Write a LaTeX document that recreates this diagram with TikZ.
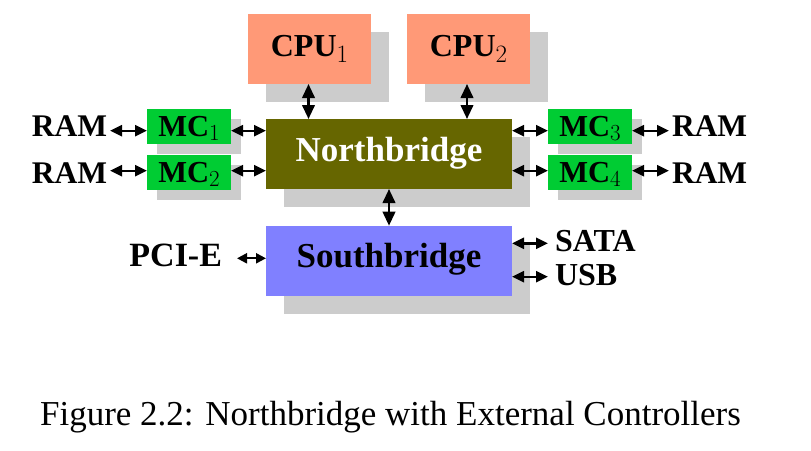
\documentclass[tikz,border=0pt]{standalone}
\usepackage[no-math]{fontspec}
\setmainfont{Liberation Serif}
\newfontfamily\lmr{Latin Modern Roman}
\usetikzlibrary{arrows.meta,shadows}
\definecolor{cpuc}{RGB}{255,153,119}
\definecolor{mcc}{RGB}{0,204,51}
\definecolor{nbc}{RGB}{102,102,0}
\definecolor{sbc}{RGB}{128,128,255}
\definecolor{shc}{RGB}{204,204,204}
\newcommand\mysub[3]{{\lmr\mdseries\fontsize{#1}{#1}\selectfont\raisebox{-#2pt}{#3}}}
\tikzset{
  bigbox/.style={inner sep=0pt, outer sep=0pt, minimum width=246pt, minimum height=70pt,
    text height=24pt, text depth=8.5pt,
    font=\fontsize{35}{40}\selectfont\bfseries,
    drop shadow={shadow xshift=18pt, shadow yshift=-18pt, fill=shc, opacity=1}},
  cpubox/.style={bigbox, fill=cpuc, minimum width=123pt, text height=24pt, text depth=10pt,
    font=\fontsize{32}{38}\selectfont\bfseries},
  mcbox/.style={inner sep=0pt, outer sep=0pt, fill=mcc, minimum width=84pt, minimum height=35pt,
    text height=25pt, text depth=5pt,
    font=\fontsize{30.5}{36}\selectfont\bfseries,
    drop shadow={shadow xshift=10pt, shadow yshift=-10pt, fill=shc, opacity=1}},
  lbl/.style={inner sep=0pt, outer sep=3pt, font=\fontsize{31.5}{38}\selectfont\bfseries},
  tipm/.tip={Triangle[length=12pt,width=11pt]},
  tipl/.tip={Triangle[length=14pt,width=12.5pt]},
  tips/.tip={Triangle[length=10pt,width=10pt]},
  link/.style={line width=2.4pt, tipm-tipm},
  vlink/.style={line width=2.4pt, tipl-tipl},
  slink/.style={line width=2.2pt, tips-tips},
}
\begin{document}
\begin{tikzpicture}[x=1pt,y=-1pt]
\useasboundingbox (0,0) rectangle (811,450);
\node[cpubox] (cpu1) at (309.5,49) {CPU\mysub{25}{6.5}{1}};
\node[cpubox] (cpu2) at (468.5,49) {CPU\mysub{25}{6.5}{2}};
\node[bigbox, fill=nbc, text=white] (nb) at (389,154) {Northbridge};
\node[bigbox, fill=sbc, text depth=10pt] (sb) at (389,260.7) {Southbridge};
\node[mcbox] (mc1) at (189,126.7) {MC\mysub{23}{4}{1}};
\node[mcbox] (mc2) at (189,172.5) {MC\mysub{23}{4}{2}};
\node[mcbox] (mc3) at (590,126.7) {MC\mysub{23}{4}{3}};
\node[mcbox] (mc4) at (590,172.5) {MC\mysub{23}{4}{4}};
\node[lbl, anchor=base east] (ram1) at (110,136.5) {RAM};
\node[lbl, anchor=base east] (ram2) at (110,183) {RAM};
\node[lbl, anchor=base west] (ram3) at (669,136.5) {RAM};
\node[lbl, anchor=base west] (ram4) at (669,183) {RAM};
\node[lbl, anchor=base east, outer sep=15pt, font=\fontsize{34}{38}\selectfont\bfseries] (pcie) at (237,266.7) {PCI-E};
\node[lbl, anchor=base west, outer sep=7pt, font=\fontsize{32}{38}\selectfont\bfseries] (sata) at (548,251.7) {SATA};
\node[lbl, anchor=base west, outer sep=7pt, font=\fontsize{32}{38}\selectfont\bfseries] (usb) at (548,285) {USB};
\node[anchor=base, inner sep=0pt, font=\fontsize{35}{40}\selectfont] (cap) at (390.5,425) {Figure 2.2: Northbridge with External Controllers};
\draw[link] ([yshift=-4pt]mc1.west -| ram1.east) -- ([yshift=-4pt]mc1.west);
\draw[link] ([yshift=1.8pt]mc2.west -| ram2.east) -- ([yshift=1.8pt]mc2.west);
\draw[link] ([yshift=-4pt]mc3.east) -- ([yshift=-4pt]mc3.east -| ram3.west);
\draw[link] ([yshift=1.8pt]mc4.east) -- ([yshift=1.8pt]mc4.east -| ram4.west);
\draw[link] ([yshift=-4pt]mc1.east) -- ([yshift=-4pt]mc1.east -| nb.west);
\draw[link] ([yshift=1.8pt]mc2.east) -- ([yshift=1.8pt]mc2.east -| nb.west);
\draw[link] ([yshift=-4pt]mc3.west -| nb.east) -- ([yshift=-4pt]mc3.west);
\draw[link] ([yshift=1.8pt]mc4.west -| nb.east) -- ([yshift=1.8pt]mc4.west);
\draw[vlink] ([xshift=-1pt]cpu1.south) -- ([xshift=-1pt]cpu1.south |- nb.north);
\draw[vlink] ([xshift=-1.5pt]cpu2.south) -- ([xshift=-1.5pt]cpu2.south |- nb.north);
\draw[vlink] (nb) -- (sb);
\draw[slink] ([yshift=2.4pt]sb.west -| pcie.east) -- ([yshift=2.4pt]sb.west);
\draw[link] ([yshift=17.4pt]sb.east) -- ([yshift=17.4pt]sb.east -| sata.west);
\draw[link] ([yshift=-16pt]sb.east) -- ([yshift=-16pt]sb.east -| usb.west);
\end{tikzpicture}
\end{document}
